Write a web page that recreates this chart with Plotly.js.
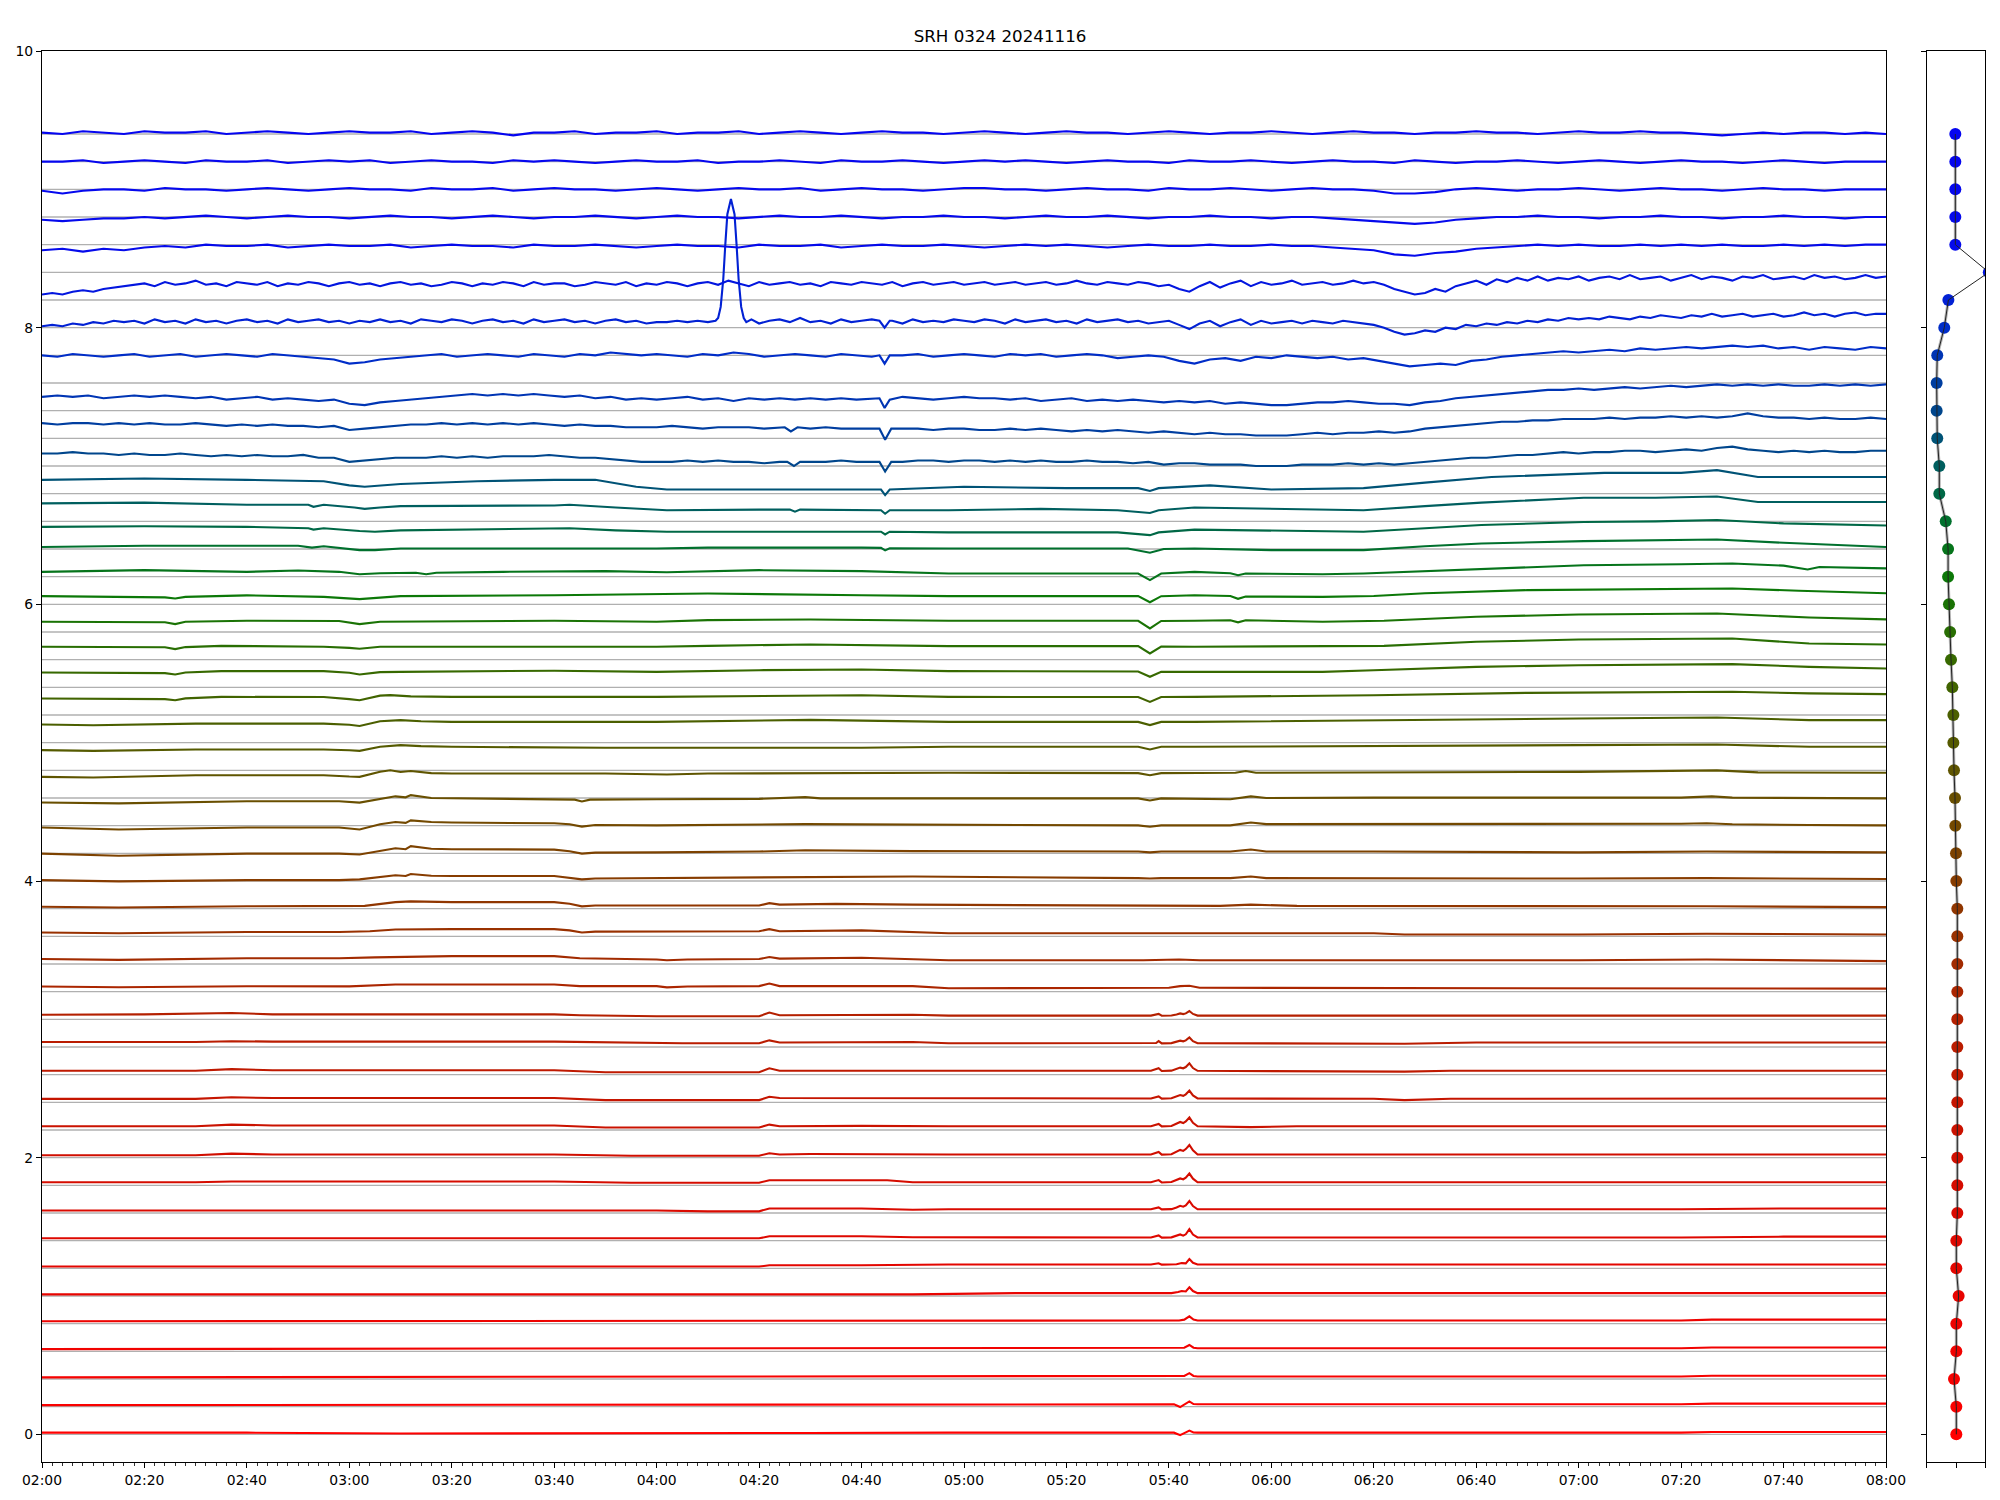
<!DOCTYPE html>
<html>
<head>
<meta charset="utf-8">
<script src="https://cdn.plot.ly/plotly-3.0.1.min.js"></script>
<style>
  html, body { margin: 0; padding: 0; background: #ffffff; }
  #chart { width: 2000px; height: 1500px; }
</style>
</head>
<body>
<div id="chart"></div>
<script>
// ---------------- DATA ----------------
const chartTitle = "SRH 0324 20241116";

// channel levels (gray reference lines / right-panel y positions)
const levels = [0,0.2,0.4,0.6,0.8,1.0,1.2,1.4,1.6,1.8,2.0,2.2,2.4,2.6,2.8,3.0,3.2,3.4,3.6,3.8,
  4.0,4.2,4.4,4.6,4.8,5.0,5.2,5.4,5.6,5.8,6.0,6.2,6.4,6.6,6.8,7.0,7.2,7.4,7.6,7.8,
  8.0,8.2,8.4,8.6,8.8,9.0,9.2,9.4];

// x axis: minutes after 02:00
const tickMinutes = [0,20,40,60,80,100,120,140,160,180,200,220,240,260,280,300,320,340,360];
const tickLabels = ["02:00","02:20","02:40","03:00","03:20","03:40","04:00","04:20","04:40","05:00",
  "05:20","05:40","06:00","06:20","06:40","07:00","07:20","07:40","08:00"];
const yTickVals = [0,2,4,6,8,10];

// right panel: one value per channel (same order as levels)
const dotX = [0.011,0.011,-0.068,0.011,0.011,0.09,0.011,0.011,0.045,0.045,
  0.045,0.045,0.045,0.045,0.045,0.045,0.045,0.045,0.045,0.045,
  0.011,0.0,-0.023,-0.034,-0.068,-0.09,-0.09,-0.125,-0.17,-0.2,
  -0.24,-0.27,-0.27,-0.35,-0.57,-0.57,-0.64,-0.66,-0.66,-0.64,
  -0.40,-0.26,1.12,-0.023,-0.023,-0.023,-0.023,-0.023];

// Channel deviations from their level, in hundredths.
// Regularly sampled channels (values every N minutes)
const g47 = [1,0,2,1,0,2,1,1,2,0, 1,2,1,0,1,2,1,1,2,0, 1,2,1,-1,1,1,2,0,1,1, 2,0,1,1,2,0,1,2,1,0,
  1,2,1,1,0,1,2,1,0,1, 2,1,1,0,1,2,1,0,1,1, 2,1,0,1,2,1,1,0,1,1, 2,1,1,0,1,2,1,1,2,1,
  1,0,-1,0,1,0,1,1,0,1, 0];
const g46 = [0,0,1,-1,0,1,0,-1,1,0, 0,1,-1,0,1,0,1,-1,0,1, 0,0,-1,1,0,1,0,-1,0,1, 0,0,1,-1,0,0,1,0,-1,1,
  0,0,1,0,-1,0,1,0,1,0, -1,0,1,0,0,-1,1,0,0,1, 0,-1,0,1,0,0,-1,1,0,-1, 0,0,1,0,-1,0,1,0,-1,0,
  1,0,0,-1,0,1,0,-1,0,0, 0];
const g45 = [-1,-3,-1,0,0,-1,1,0,0,-1, 0,1,0,-1,0,1,0,0,-1,1, 0,0,1,-1,0,1,0,0,-1,0, 1,0,-1,0,1,0,0,1,-1,0,
  1,0,0,-1,0,1,1,0,0,-1, 0,1,0,0,-1,1,0,0,1,0, -1,0,1,0,0,-1,-3,-3,-2,0, 1,0,-1,0,0,1,0,-1,0,1,
  0,0,-1,0,1,0,0,-1,0,0, 0];
const g44 = [-2,-3,-2,-1,-1,0,-1,0,1,0, -1,0,1,0,0,-1,0,1,0,0, -1,0,1,0,-1,0,0,1,0,-1, 0,1,0,0,-1,0,1,0,0,1,
  0,-1,0,0,1,0,0,-1,0,1, 0,0,1,0,-1,0,0,1,0,0, -1,0,0,-1,-2,-3,-4,-5,-4,-2, -1,0,0,1,0,0,-1,0,0,1,
  0,0,-1,0,0,1,0,0,-1,0, 0];
const g43 = [-4,-3,-5,-3,-4,-2,-1,-2,0,-1, -1,0,-2,-1,0,-1,-1,0,-2,-1, 0,-1,-1,-2,0,-1,-1,0,-1,-2, -1,0,-1,-1,-2,0,-1,-1,0,-2,
  -1,0,-1,-1,0,-1,-2,-1,0,-1, 0,-1,-2,-1,0,-1,-1,0,-1,-1, 0,-1,-1,-2,-3,-4,-7,-8,-6,-5, -3,-2,-1,0,-1,0,-1,-1,0,-1,
  0,-1,0,-1,-1,0,-1,0,-1,0, 0];
const g42 = [-16,-15,-16,-14,-13,-14,-12,-11,-10,
  -9,-8,-10,-7,-9,-8,-6,-9,-8,-10,-7,-8,-9,-7,-10,-8,-9,-7,-8,-10,-8,-7,
  -9,-8,-10,-8,-7,-9,-8,-10,-9,-7,-8,-10,-8,-9,-7,-8,-10,-7,-9,-8,-8,-10,-9,-7,-8,-9,-7,-10,-8,-9,
  -7,-8,-10,-8,-7,-9,-6,-8,-10,-7,-9,-8,-7,-9,-8,-10,-7,-8,-9,-7,-8,-9,-7,-10,-8,-7,-9,-8,-7,-9,
  -8,-7,-9,-8,-7,-9,-8,-7,-9,-8,-6,-8,-9,-7,-8,-9,-7,-8,-10,-9,
  -12,-14,-10,-7,-11,-8,-6,-10,-7,-9,-8,-6,-9,-8,-7,-9,-8,-6,-8,-7,
  -9,-12,-14,-16,-15,-12,-14,-10,-8,-6,-9,-5,-7,-4,-6,-3,-6,-4,-5,-3,
  -6,-4,-3,-5,-2,-5,-4,-3,-6,-4,-2,-5,-3,-4,-6,-3,-4,-2,-5,-4,-3,-5,-2,-4,-3,-5,-4,-2,-4,-3];
const g41 = [-19,-18,-19,-17,-18,-16,-17,-15,-16,
  -15,-17,-14,-16,-15,-17,-14,-16,-15,-17,-15,-14,-16,-15,-17,-14,-16,-15,-14,-16,-15,-17,
  -15,-16,-14,-16,-15,-17,-14,-15,-16,-14,-15,-17,-15,-14,-16,-15,-17,-14,-16,-15,-14,-16,-15,-17,-15,-14,-16,-15,-17,-16,
  -16,-15,-16,-15,-16,-14,-15,-16,-15,-17,-15,-14,-16,-13,-16,-15,-17,-14,-16,-15,-14,-16,-15,-17,-14,-16,-15,-16,-14,-15,
  -16,-14,-15,-17,-14,-16,-15,-14,-16,-15,-17,-14,-16,-15,-14,-16,-15,-17,-16,-15,
  -18,-21,-17,-15,-19,-16,-14,-18,-15,-17,-16,-15,-17,-15,-16,-17,-15,-16,-17,-18,
  -20,-23,-25,-24,-22,-23,-20,-21,-18,-19,-17,-18,-16,-17,-15,-16,-14,-15,-13,-14,
  -13,-14,-12,-13,-14,-12,-13,-11,-12,-13,-11,-12,-10,-12,-11,-10,-12,-11,-10,-12,-11,-9,-11,-10,-12,-10,-9,-11,-10,-10];
const g40 = [-20,-21,-19,-20,-21,-20,-19,-21,-20,-19,-21,-20,-19,-20,-21,-19,-20,-21,-22,-23,
  -26,-25,-23,-22,-21,-20,-19,-21,-20,-19,-20,-21,-19,-20,-21,-19,-20,-18,-19,-20,
  -19,-20,-21,-19,-20,-18,-19,-21,-20,-19,-20,-21,-19,-20,-21,-19,-20,-19,-21,-20,
  -19,-20,-21,-19,-20,-19,-21,-20,-19,-20,-22,-21,-20,-21,-24,-26,-23,-22,-24,-21,
  -22,-20,-21,-22,-21,-23,-22,-24,-26,-28,-27,-26,-27,-24,-23,-21,-20,-19,-18,-17,
  -18,-17,-16,-17,-15,-16,-15,-14,-15,-14,-13,-14,-13,-15,-14,-16,-14,-15,-16,-14,-15];
const g39 = [-30,-29,-30,-29,-31,-30,-29,-30,-29,-30,-31,-30,-32,-31,-30,-32,-31,-32,-33,-32,
  -35,-36,-34,-33,-32,-31,-30,-29,-28,-29,-28,-29,-28,-29,-30,-29,-31,-30,-32,-31,
  -32,-31,-30,-32,-31,-33,-31,-32,-31,-32,-31,-32,-31,-32,-31,-32,-30,-31,-32,-31,
  -30,-31,-31,-32,-31,-33,-32,-31,-33,-32,-33,-32,-33,-34,-33,-34,-33,-35,-34,-35,
  -36,-36,-35,-34,-34,-33,-34,-35,-35,-36,-34,-33,-31,-30,-29,-28,-27,-26,-25,-25,
  -24,-25,-24,-23,-24,-23,-22,-23,-22,-21,-22,-21,-22,-21,-22,-22,-21,-22,-21,-22,-21];
const g38 = [-29,-30,-29,-29,-30,-29,-30,-29,-30,-30,-29,-30,-31,-30,-31,-30,-31,-31,-32,-31,
  -34,-33,-32,-31,-30,-30,-29,-30,-29,-30,-29,-30,-29,-30,-31,-30,-31,-31,-32,-32,
  -32,-31,-32,-33,-32,-32,-32,-33,-32,-32,-33,-32,-33,-33,-33,-32,-33,-33,-34,-33,
  -33,-34,-34,-33,-34,-33,-34,-35,-34,-35,-34,-35,-36,-35,-36,-37,-36,-37,-37,-38,
  -38,-38,-37,-36,-37,-36,-36,-35,-36,-35,-33,-32,-31,-30,-29,-28,-28,-27,-27,-26,
  -26,-26,-25,-26,-25,-25,-24,-25,-24,-25,-24,-22,-24,-25,-25,-26,-25,-26,-26,-25,-26];
const g37 = [-31,-31,-30,-31,-31,-32,-31,-32,-32,-31,-32,-33,-32,-33,-32,-33,-33,-32,-34,-34,
  -37,-36,-35,-34,-34,-34,-33,-34,-33,-34,-33,-33,-33,-32,-33,-34,-34,-35,-36,-37,
  -37,-37,-36,-37,-36,-37,-37,-38,-37,-36,-37,-37,-36,-37,-37,-36,-37,-36,-36,-37,
  -36,-36,-37,-36,-37,-36,-37,-37,-36,-37,-37,-38,-37,-39,-38,-38,-39,-39,-39,-40,
  -40,-40,-39,-39,-39,-38,-39,-38,-39,-38,-37,-36,-35,-34,-34,-33,-32,-32,-31,-30,
  -31,-30,-30,-29,-29,-30,-29,-28,-29,-27,-26,-28,-29,-30,-29,-30,-29,-30,-30,-29,-29];

// sharp features [minute, deviation]
const burst41 = [[131.5,-15],[132,-13],[132.5,-5],[133,15],[133.4,40],[133.8,62],[134.5,73],[135.2,62],[135.6,40],[136,15],[136.5,-5],[137,-13],[137.5,-16],[138.5,-14]];
const dip41 = [[163.5,-15],[164.5,-20],[165.5,-15]];
const dip40 = [[163.5,-20],[164.5,-26],[165.5,-20]];
const dip39 = [[163.5,-31],[164.5,-38],[165.5,-32]];
const dip38a = [[145,-32],[146.2,-35],[147.5,-32]];
const dip38b = [[163.5,-33],[164.6,-41],[165.8,-33]];
const dip37a = [[145.5,-37],[146.8,-40],[148,-37]];
const dip37b = [[163.5,-37],[164.6,-44],[165.8,-37]];

// Channels given as [minute, deviation] key points
const ch36 = [[0,-30],[20,-29],[40,-30],[55,-31],[60,-34],[63,-35],[70,-33],[85,-31],[100,-30],[108,-30],[116,-35],[122,-37],[140,-37],[160,-37],[163.8,-37],[164.6,-41],[165.5,-37],[180,-35],[200,-36],[214,-36],[216.3,-38],[218,-36],[228,-34],[240,-37],[258,-36],[270,-32],[283,-28],[305,-25],[320,-25],[327,-23],[335,-28],[345,-28],[360,-28]];
const ch35 = [[0,-27],[20,-26.5],[40,-28],[52,-28],[53,-29.5],[55,-28],[61,-30],[63,-31],[66,-30],[70,-29],[100,-28.5],[103,-28],[112,-30],[122,-32],[140,-31.5],[146,-31.5],[147,-33],[148,-31.5],[163.8,-32],[164.6,-34.5],[165.5,-32],[177,-32],[195,-31],[210,-32],[216.3,-34],[218,-32],[225,-30],[240,-31],[250,-32],[258,-32],[270,-29],[281,-26.5],[301,-23],[315,-23],[327,-22],[335,-26],[345,-26],[360,-26]];
const ch34 = [[0,-24],[20,-23.5],[40,-24],[52,-25],[53,-26],[55,-25],[62,-27],[65,-27.5],[70,-26.5],[100,-25.5],[103,-25],[112,-26.5],[122,-27.5],[160,-27.5],[163.8,-27.5],[164.6,-29.5],[165.5,-27.5],[177,-28],[210,-28],[216.3,-30],[218,-28],[225,-26],[250,-27.5],[258,-27.5],[270,-25],[281,-22.7],[301,-20.5],[315,-20],[327,-19],[340,-21.5],[360,-23]];
const ch33 = [[0,-18.5],[20,-17.7],[50,-17.7],[52.7,-19],[55,-18],[62,-20.8],[65,-20.8],[70,-19.6],[120,-19.6],[130,-19],[160,-19],[163.8,-19.2],[164.6,-21],[165.5,-19.5],[177,-19.6],[212,-19.6],[216.3,-22.7],[219,-20],[225,-19.6],[240,-20.8],[258,-20.8],[270,-18],[281,-16],[301,-14.3],[327,-13.1],[340,-15.5],[360,-18.5]];
const ch32 = [[0,-16.5],[20,-15.3],[40,-16.5],[50,-15.5],[58,-16.5],[62,-18.2],[66,-17.5],[73,-17.2],[75,-18.2],[77,-17.2],[90,-16.5],[110,-16],[122,-16.8],[140,-15.3],[160,-16],[177,-17.7],[214,-17.7],[216.3,-22.5],[218.5,-17.7],[225,-16.5],[232,-17.5],[233.5,-19],[235,-17.7],[250,-18.2],[258,-17.7],[270,-16],[281,-14.1],[301,-11.7],[320,-11],[330,-10.5],[340,-12],[344.7,-14.8],[347,-13],[360,-14]];
const ch31 = [[0,-14.1],[20,-14.6],[24,-15],[26,-15.8],[28,-14.6],[40,-13.5],[55,-14.6],[62,-16.2],[70,-14.1],[100,-13.4],[130,-12.2],[160,-13.4],[177,-14.1],[214,-14.1],[216.3,-18.5],[218.5,-14.1],[225,-13.4],[232,-14],[233.5,-16],[235,-14.3],[250,-14.6],[260,-14],[270,-12],[290,-9.7],[310,-9],[330,-8.5],[343,-10.2],[360,-12]];
const ch30 = [[0,-12.6],[20,-12.6],[24,-13],[26,-14.3],[28,-12.6],[40,-11.9],[58,-12],[62,-14.3],[66,-12.6],[100,-11.9],[120,-12.6],[130,-11.4],[150,-11],[177,-11.9],[214,-11.9],[216.3,-17.4],[218.5,-12],[225,-11.9],[232,-11.5],[233.5,-13],[235,-11.5],[250,-12.6],[262,-11.9],[280,-9],[300,-7.3],[327,-6.6],[345,-9.5],[360,-10.9]];
const ch29 = [[0,-10.7],[20,-10.7],[24,-11],[26,-12.4],[28,-10.9],[35,-10],[55,-10.7],[60,-11.5],[62,-12.1],[66,-10.7],[120,-10.7],[130,-10],[150,-9],[177,-10.2],[214,-10.2],[216.3,-15.5],[218.5,-10.5],[225,-10.7],[250,-10.2],[262,-10],[280,-7.1],[300,-5.4],[330,-4.7],[345,-8.3],[360,-9]];
const ch28 = [[0,-9.3],[20,-9.3],[24,-9.7],[26,-10.7],[28,-9.3],[35,-8.3],[55,-8.3],[60,-9.5],[62,-10.7],[66,-9],[70,-8.8],[100,-8],[120,-8.8],[140,-7.6],[160,-7.1],[177,-8.3],[214,-8.5],[216.3,-12.4],[218.5,-8.8],[225,-8.8],[250,-8.8],[260,-7.6],[280,-5.2],[300,-4],[330,-3.2],[345,-5.2],[360,-6.4]];
const ch27 = [[0,-8.1],[20,-8.1],[24,-8.5],[26,-9.3],[28,-8],[35,-6.9],[55,-7],[60,-8.5],[62,-9.3],[66,-6],[68,-5.6],[72,-6.5],[80,-6.9],[120,-6.9],[140,-6.4],[160,-5.7],[177,-6.9],[214,-7],[216.3,-10.5],[218.5,-7],[225,-6.9],[250,-6.4],[260,-5.7],[290,-4],[330,-3.2],[345,-4.4],[360,-4.9]];
const ch26 = [[0,-6.9],[10,-7.4],[30,-6.2],[55,-6.2],[60,-7],[62,-7.9],[66,-4.5],[70,-3.7],[74,-4.5],[80,-5],[120,-5],[150,-3.5],[177,-5],[214,-5],[216.3,-7.3],[218.5,-5],[225,-5],[260,-3.7],[300,-2.5],[327,-1.8],[345,-3.7],[360,-3.7]];
const ch25 = [[0,-5.4],[10,-5.9],[30,-4.9],[55,-4.9],[60,-5.5],[62,-5.9],[66,-3],[70,-1.8],[74,-2.5],[80,-3],[110,-3.7],[160,-3.7],[177,-3],[214,-3],[216.3,-4.9],[218.5,-3],[225,-3],[270,-2.5],[300,-1.8],[327,-1.3],[345,-3],[360,-3]];
const ch24 = [[0,-4.7],[10,-5.2],[30,-3.5],[55,-3.5],[60,-4.5],[62,-4.7],[66,-1],[68,0],[70,-1.2],[72,-0.5],[76,-2],[80,-2.3],[110,-2.3],[122,-3],[130,-2.3],[177,-1.8],[214,-2],[216.3,-3.5],[218.5,-2],[233,-1.8],[235,-0.5],[237,-1.8],[300,-1.1],[327,0],[335,-1.5],[360,-1.8]];
const ch23 = [[0,-3.3],[15,-3.9],[40,-2.4],[58,-2.4],[62,-3.3],[66,-0.5],[69,1.2],[71,0.5],[72,2.1],[76,0],[90,-0.5],[104,-1.2],[105.4,-2.5],[107,-1.2],[120,-0.9],[140,-0.6],[149,0.6],[152,-0.3],[177,-0.3],[214,-0.3],[216.3,-1.8],[218.5,-0.3],[232,-0.9],[236,1.2],[239,0],[260,0.3],[320,0.3],[326,1.2],[330,0.3],[345,0],[360,-0.3]];
const ch22 = [[0,-1.3],[15,-2.8],[40,-1.3],[58,-1.3],[62,-2.8],[66,1],[69,2.6],[71,2],[72,3.8],[76,2.6],[80,2.3],[100,1.7],[103,1],[105.4,-0.7],[108,0.5],[120,0.2],[149,1.1],[170,0.8],[214,0.2],[216.3,-0.8],[218.5,0.2],[232,0.2],[236,2.3],[239,1.1],[280,1.1],[320,1.4],[325,1.7],[330,1],[345,0.5],[360,0.2]];
const ch21 = [[0,-0.2],[15,-1.7],[40,-0.2],[58,-0.2],[62,-0.8],[66,2],[69,3.7],[71,3],[72,5.2],[76,3.3],[80,3],[100,2.7],[103,1.5],[105.4,-0.2],[108,0.5],[120,0.7],[140,1.3],[149,2.2],[170,1.6],[214,1.3],[216.3,0.7],[218.5,1.3],[232,1.3],[236,2.8],[239,1.3],[260,1.3],[300,0.7],[325,1.3],[360,0.7]];
const ch20 = [[0,0.6],[15,-0.3],[40,0.6],[58,0.6],[62,1.2],[66,3],[69,4.2],[71,3.6],[72,5.1],[76,3.8],[80,3.6],[100,3.6],[103,2.5],[105.4,1.2],[108,1.8],[120,2.1],[149,2.7],[170,3.3],[214,2.1],[216.3,1.8],[218.5,2.1],[232,2.1],[236,3.3],[239,2.1],[300,1.8],[325,2.1],[360,1.5]];
const ch19 = [[0,1.4],[15,0.8],[40,1.7],[58,1.7],[63,2],[69,4.7],[72,5.3],[80,4.7],[100,4.7],[103,3.5],[105.4,1.7],[108,2.3],[120,2.3],[140,2.3],[142,4],[144,2.9],[155,3.5],[170,2.9],[230,2],[236,2.9],[245,2],[300,2],[325,1.7],[360,1.1]];
const ch18 = [[0,2.8],[15,2.2],[40,3.1],[58,3.1],[64,3.7],[69,4.9],[80,5.2],[100,5.2],[103,4.3],[105.4,2.8],[108,3.4],[120,3.7],[140,3.7],[142,5.2],[144,3.7],[160,4.3],[177,2.2],[230,2.2],[260,2.2],[266,1.3],[300,1.3],[325,1.9],[360,1.3]];
const ch17 = [[0,3.6],[15,3],[40,4.2],[58,4.2],[65,4.8],[69,5],[80,5.7],[100,5.7],[105,4.2],[120,3.3],[122,2.7],[126,3.3],[140,3.6],[142,5],[144,3.9],[160,4.5],[177,2.7],[215,2.7],[222,3.3],[226,2.7],[300,2.7],[325,3.3],[360,2.1]];
const ch16 = [[0,3.7],[15,3.2],[40,3.9],[60,3.8],[69,5.2],[100,5.2],[105,4],[120,4],[122,3.1],[126,3.7],[140,4],[142,5.9],[144,4],[170,4],[177,2.5],[215,2.5],[220,2.8],[222.2,4],[224,4.3],[226,2.8],[360,2.2]];
const ch15 = [[0,3.3],[20,3.6],[37,4.6],[45,3.6],[100,3.6],[105,3],[120,2.2],[140,2.2],[142,4.9],[144,3],[170,3.3],[177,2.7],[216.5,2.7],[218,3.9],[218.6,2.6],[220.5,2.8],[221.5,3.5],[222.2,4.3],[222.8,3.8],[223.3,4.3],[224,6],[224.7,3.9],[225.6,2.7],[360,2.7]];
const ch14 = [[0,3.6],[30,3.6],[37,4.2],[45,3.9],[100,3.9],[110,3.3],[125,2.7],[140,2.7],[142,4.8],[144,3.3],[170,3.6],[177,2.7],[216.5,2.7],[217.5,2.9],[218,4.3],[218.6,2.6],[220.5,2.8],[221.5,3.6],[222.2,4.6],[222.8,4.1],[223.3,4.8],[224,6.9],[224.7,4.2],[225.6,2.7],[266,2.4],[280,3.3],[360,3.3]];
const ch13 = [[0,2.8],[30,2.8],[37,4],[45,3.2],[100,3.2],[110,1.7],[140,1.7],[142,4.6],[144,2.8],[170,2.8],[216.5,2.8],[218,4.6],[218.6,2.7],[220.5,2.9],[221.5,4],[222.2,5.1],[222.8,4.6],[223.3,5.5],[224,8.2],[224.7,4.8],[225.6,2.8],[260,2.6],[266,2.2],[275,2.8],[360,2.8]];
const ch12 = [[0,2.5],[30,2.5],[37,3.7],[45,3.1],[100,3.1],[110,1.6],[140,1.6],[142,4],[144,3.1],[170,3.1],[177,2.8],[216.5,2.8],[218,4.3],[218.6,2.7],[220.5,2.9],[221.5,4.2],[222.2,5.3],[222.8,4.7],[223.3,5.8],[224,8.5],[224.7,5],[225.6,2.8],[260,2.6],[266,1.6],[275,2.6],[360,2.8]];
const ch11 = [[0,2.7],[30,2.7],[37,3.9],[45,3.3],[100,3.3],[110,1.8],[140,1.8],[142,3.9],[144,2.7],[160,3],[177,2.7],[216.5,2.7],[218,4.4],[218.6,2.6],[220.5,2.9],[221.5,4.5],[222.2,5.8],[222.8,5],[223.3,6.2],[224,9],[224.7,5.2],[225.6,2.7],[236,2.1],[245,2.7],[360,2.7]];
const ch10 = [[0,1.7],[30,1.7],[37,2.9],[45,2.3],[100,2.3],[115,1.4],[140,1.4],[142,3.2],[144,2.3],[150,2.6],[177,2.3],[216.5,2.3],[218,4.1],[218.6,2.2],[220.5,2.5],[221.5,4.2],[222.2,5.6],[222.8,4.9],[223.3,6.2],[224,9.2],[224.7,5.3],[225.6,2.3],[360,2.3]];
const ch09 = [[0,2.2],[30,2.2],[37,2.8],[100,2.8],[115,1.9],[140,1.9],[142,3.7],[149,3.7],[165,3.7],[170,2.2],[177,2.2],[216.5,2.2],[218,3.8],[218.6,2.1],[220.5,2.4],[221.5,3.9],[222.2,5],[222.8,4.4],[223.3,5.5],[224,8.5],[224.7,4.8],[225.6,2.2],[360,2.2]];
const ch08 = [[0,1.8],[120,1.8],[130,1.2],[140,1.2],[142,3.3],[160,3.3],[170,2.4],[177,2.7],[216.5,2.7],[218,4],[218.6,2.6],[220.5,2.8],[221.5,4],[222.2,5.2],[222.8,4.6],[223.3,5.5],[224,8.7],[224.7,5],[225.6,2.7],[320,2.7],[340,3.3],[360,3.3]];
const ch07 = [[0,1.7],[140,1.7],[142,3.2],[160,3.2],[170,2.5],[216.5,2.3],[218,3.8],[218.6,2.2],[220.5,2.4],[221.5,3.4],[222.2,4.5],[222.8,3.6],[223.3,4.6],[224,8.3],[224.7,4.4],[225.6,2.3],[320,2.3],[340,2.9],[360,2.9]];
const ch06 = [[0,1.3],[140,1.3],[142,2.2],[160,2.2],[177,2.8],[216.5,2.8],[218,3.7],[218.6,2.7],[221.5,2.9],[222.5,3.8],[223.3,3.6],[224,6.7],[224.7,4],[225.6,2.8],[360,2.8]];
const ch05 = [[0,1.2],[170,1.2],[190,2.1],[220.5,2.1],[221.8,2.9],[222.5,3.6],[223.3,3.3],[224,6.3],[224.7,3.6],[225.6,2.1],[360,2.1]];
const ch04 = [[0,1.7],[177,2.3],[222,2.3],[223,2.9],[224,5.3],[224.8,3],[225.6,2.3],[320,2.3],[326,2.9],[360,2.9]];
const ch03 = [[0,1.6],[177,2.2],[222,2.2],[223,2.6],[224,4.6],[224.8,2.6],[225.6,2.2],[320,2.2],[326,2.8],[360,2.8]];
const ch02 = [[0,1.2],[177,1.8],[222,1.8],[223,2.2],[224,4.2],[224.8,2.2],[225.6,1.8],[320,1.8],[326,2.4],[360,2.4]];
const ch01 = [[0,1.1],[177,1.7],[221,1.7],[222.2,-0.3],[223,1.6],[224,3.8],[224.8,1.9],[225.6,1.7],[320,1.7],[326,2.2],[360,2.2]];
const ch00 = [[0,1.2],[40,1.2],[70,0.6],[130,0.6],[150,1.0],[177,1.2],[221,1.2],[222.2,-0.6],[223,1],[224,2.7],[224.8,1.3],[225.6,1.2],[320,1.2],[326,1.7],[360,1.7]];

// ---------------- BUILD ----------------
function gridPairs(step, vals) { return vals.map((v, i) => [i * step, v]); }
function withFeatures(base, ...segs) {
  let pts = base.slice();
  segs.forEach(seg => {
    const a = seg[0][0], b = seg[seg.length - 1][0];
    pts = pts.filter(p => p[0] < a || p[0] > b).concat(seg);
  });
  return pts.sort((p, q) => p[0] - q[0]);
}

const channels = [ch00, ch01, ch02, ch03, ch04, ch05, ch06, ch07, ch08, ch09,
  ch10, ch11, ch12, ch13, ch14, ch15, ch16, ch17, ch18, ch19,
  ch20, ch21, ch22, ch23, ch24, ch25, ch26, ch27, ch28, ch29,
  ch30, ch31, ch32, ch33, ch34, ch35, ch36,
  withFeatures(gridPairs(3, g37), dip37a, dip37b),
  withFeatures(gridPairs(3, g38), dip38a, dip38b),
  withFeatures(gridPairs(3, g39), dip39),
  withFeatures(gridPairs(3, g40), dip40),
  withFeatures(gridPairs(2, g41), burst41, dip41),
  gridPairs(2, g42),
  gridPairs(4, g43), gridPairs(4, g44), gridPairs(4, g45), gridPairs(4, g46), gridPairs(4, g47)];

// colour ramp along channel level (red -> brown -> green -> teal -> blue)
const colorStops = [[0,[255,0,0]],[1.0,[232,4,0]],[2.0,[208,14,0]],[3.0,[180,32,0]],[4.0,[135,60,0]],
  [4.8,[95,85,0]],[5.6,[55,105,0]],[6.2,[12,120,8]],[6.6,[0,112,45]],[7.0,[0,95,95]],
  [7.4,[0,70,140]],[8.0,[0,45,200]],[8.6,[5,10,235]],[9.4,[5,5,240]]];
function colorAt(lv) {
  for (let i = 0; i < colorStops.length - 1; i++) {
    const [a, ca] = colorStops[i], [b, cb] = colorStops[i + 1];
    if (lv <= b + 1e-9) {
      const f = (lv - a) / (b - a);
      const c = ca.map((v, j) => Math.round(v + (cb[j] - v) * f));
      return `rgb(${c[0]},${c[1]},${c[2]})`;
    }
  }
  const c = colorStops[colorStops.length - 1][1];
  return `rgb(${c[0]},${c[1]},${c[2]})`;
}

const FONT = "DejaVu Sans, Liberation Sans, sans-serif";
const traces = [];

// coloured channel curves
channels.forEach((pts, k) => {
  traces.push({
    type: 'scatter', mode: 'lines', xaxis: 'x', yaxis: 'y',
    x: pts.map(p => p[0]), y: pts.map(p => levels[k] + p[1] / 100),
    line: { color: colorAt(levels[k]), width: 2.1 },
    hoverinfo: 'skip', showlegend: false
  });
});

// right panel: gray trend (without outlier), dots, thin black connecting line
const grayY = levels.map((lv, k) => (Math.abs(dotX[k]) > 1 ? null : lv));
traces.push({
  type: 'scatter', mode: 'lines', xaxis: 'x2', yaxis: 'y2',
  x: dotX, y: grayY, connectgaps: false,
  line: { color: 'rgba(150,150,150,0.7)', width: 3 }, hoverinfo: 'skip', showlegend: false
});
traces.push({
  type: 'scatter', mode: 'markers', xaxis: 'x2', yaxis: 'y2',
  x: dotX, y: levels, cliponaxis: true,
  marker: { color: levels.map(colorAt), size: 12, line: { width: 0 } },
  hoverinfo: 'skip', showlegend: false
});
traces.push({
  type: 'scatter', mode: 'lines', xaxis: 'x2', yaxis: 'y2',
  x: dotX, y: levels,
  line: { color: '#222222', width: 1 }, hoverinfo: 'skip', showlegend: false
});

// gray reference lines at each channel level
const shapes = levels.map(lv => ({
  type: 'line', xref: 'x', yref: 'y', x0: tickMinutes[0], x1: tickMinutes[tickMinutes.length - 1],
  y0: lv, y1: lv, layer: 'below', line: { color: 'rgba(150,150,150,0.75)', width: 1.3 }
}));

const axisCommon = {
  showgrid: false, zeroline: false, showline: true, mirror: true,
  linecolor: '#000', linewidth: 1.1, ticks: 'outside', ticklen: 5, tickwidth: 1,
  tickcolor: '#000', tickfont: { family: FONT, size: 13.9, color: '#000' }
};

const layout = {
  width: 2000, height: 1500,
  paper_bgcolor: '#fff', plot_bgcolor: '#fff',
  margin: { l: 0, r: 0, t: 0, b: 0 },
  font: { family: FONT, color: '#000' },
  showlegend: false,
  title: { text: chartTitle, x: 0.5, xanchor: 'center', xref: 'paper',
    y: 1 - 36 / 1500, yanchor: 'middle', yref: 'paper',
    font: { family: FONT, size: 16.7, color: '#000' } },
  xaxis: Object.assign({}, axisCommon, {
    domain: [42 / 2000, 1886 / 2000], range: [0, 360], anchor: 'y',
    tickmode: 'array', tickvals: tickMinutes, ticktext: tickLabels,
    minor: { dtick: 2, tick0: 0, ticks: 'outside', ticklen: 3, tickcolor: '#000', tickwidth: 0.8 }
  }),
  yaxis: Object.assign({}, axisCommon, {
    domain: [38 / 1500, 1449 / 1500], range: [-0.2, 10], anchor: 'x',
    tickmode: 'array', tickvals: yTickVals, ticktext: yTickVals.map(String)
  }),
  xaxis2: Object.assign({}, axisCommon, {
    domain: [1926.7 / 2000, 1985.3 / 2000], range: [-1, 1], anchor: 'y2',
    tickmode: 'array', tickvals: [-1, 0, 1], showticklabels: false
  }),
  yaxis2: Object.assign({}, axisCommon, {
    domain: [38 / 1500, 1449 / 1500], range: [-0.2, 10], anchor: 'x2',
    tickmode: 'array', tickvals: yTickVals, showticklabels: false
  }),
  shapes: shapes
};

Plotly.newPlot('chart', traces, layout, { staticPlot: true, displayModeBar: false });
</script>
</body>
</html>
